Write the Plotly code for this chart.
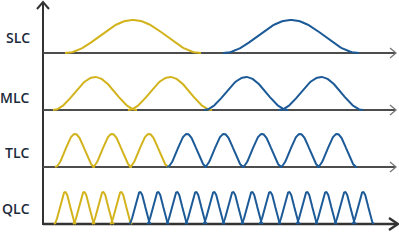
import numpy as np
import plotly.graph_objects as go

W, H = 399, 252

# ---- data (horizontal positions / row layout) ----
row_labels = ["SLC", "MLC", "TLC", "QLC"]
row_baseline_px = [53, 110, 167, 224]
label_center_px = [37, 97, 152, 208]

slc_centers = [133, 291]
mlc_centers = [95, 170, 246, 321]
tlc_centers = [75, 112, 149, 187, 224, 262, 300, 337]
qlc_centers = [65, 84, 103, 121, 140, 158, 177, 196, 214, 233, 252, 270,
               289, 307, 326, 345, 363]
row_centers = [slc_centers, mlc_centers, tlc_centers, qlc_centers]
row_yellow_count = [1, 2, 3, 4]
row_half_width = [68, 42, 20, 11]
peak_height = [33, 33, 33, 32]

YELLOW = "#d3b31c"
BLUE = "#1c5a97"
AXIS = "#333333"
LINE = "#4d4d4d"
TEXT = "#1b2a3a"

x_axis_px = 43
axis_top_px = 2
axis_end_px = 396


def yv(px):
    return H - px


fig = go.Figure()

# vertical axis
fig.add_trace(go.Scatter(x=[x_axis_px, x_axis_px], y=[yv(row_baseline_px[-1] + 1), yv(axis_top_px)],
                         mode="lines", line=dict(color=AXIS, width=2), hoverinfo="skip"))
fig.add_trace(go.Scatter(x=[x_axis_px - 6, x_axis_px, x_axis_px + 6],
                         y=[yv(axis_top_px + 7), yv(axis_top_px), yv(axis_top_px + 7)],
                         mode="lines", line=dict(color=AXIS, width=2), hoverinfo="skip"))

# baselines with arrows
for i, b in enumerate(row_baseline_px):
    last = i == len(row_baseline_px) - 1
    col = AXIS if last else LINE
    wd = 2.5 if last else 2
    tip = axis_end_px + (2 if last else 0)
    back = 9 if last else 6
    half = 6 if last else 5
    fig.add_trace(go.Scatter(x=[x_axis_px, tip - 1], y=[yv(b), yv(b)], mode="lines",
                             line=dict(color=col, width=wd), hoverinfo="skip"))
    fig.add_trace(go.Scatter(x=[tip - back, tip, tip - back],
                             y=[yv(b - half), yv(b), yv(b + half)], mode="lines",
                             line=dict(color=col if last else "#777777", width=wd if last else 1.3),
                             hoverinfo="skip"))

# distributions
for i, centers in enumerate(row_centers):
    b = row_baseline_px[i]
    hw = row_half_width[i]
    for k, c in enumerate(centers):
        xs = np.linspace(c - hw, c + hw, 80)
        ys = yv(b) + peak_height[i] * np.cos(np.pi * (xs - c) / (2 * hw)) ** 2
        color = YELLOW if k < row_yellow_count[i] else BLUE
        fig.add_trace(go.Scatter(x=xs, y=ys, mode="lines",
                                 line=dict(color=color, width=2), hoverinfo="skip"))

# labels
for lab, cy in zip(row_labels, label_center_px):
    fig.add_annotation(x=31, y=yv(cy), text=lab, showarrow=False, xanchor="right",
                       yanchor="middle", borderpad=0,
                       font=dict(family="Open Sans", size=14, color=TEXT, weight=600))

fig.update_layout(
    width=W, height=H, margin=dict(l=0, r=0, t=0, b=0),
    paper_bgcolor="white", plot_bgcolor="white", showlegend=False,
    xaxis=dict(range=[0, W], visible=False, fixedrange=True),
    yaxis=dict(range=[0, H], visible=False, fixedrange=True),
)

fig.write_html("out.html")
